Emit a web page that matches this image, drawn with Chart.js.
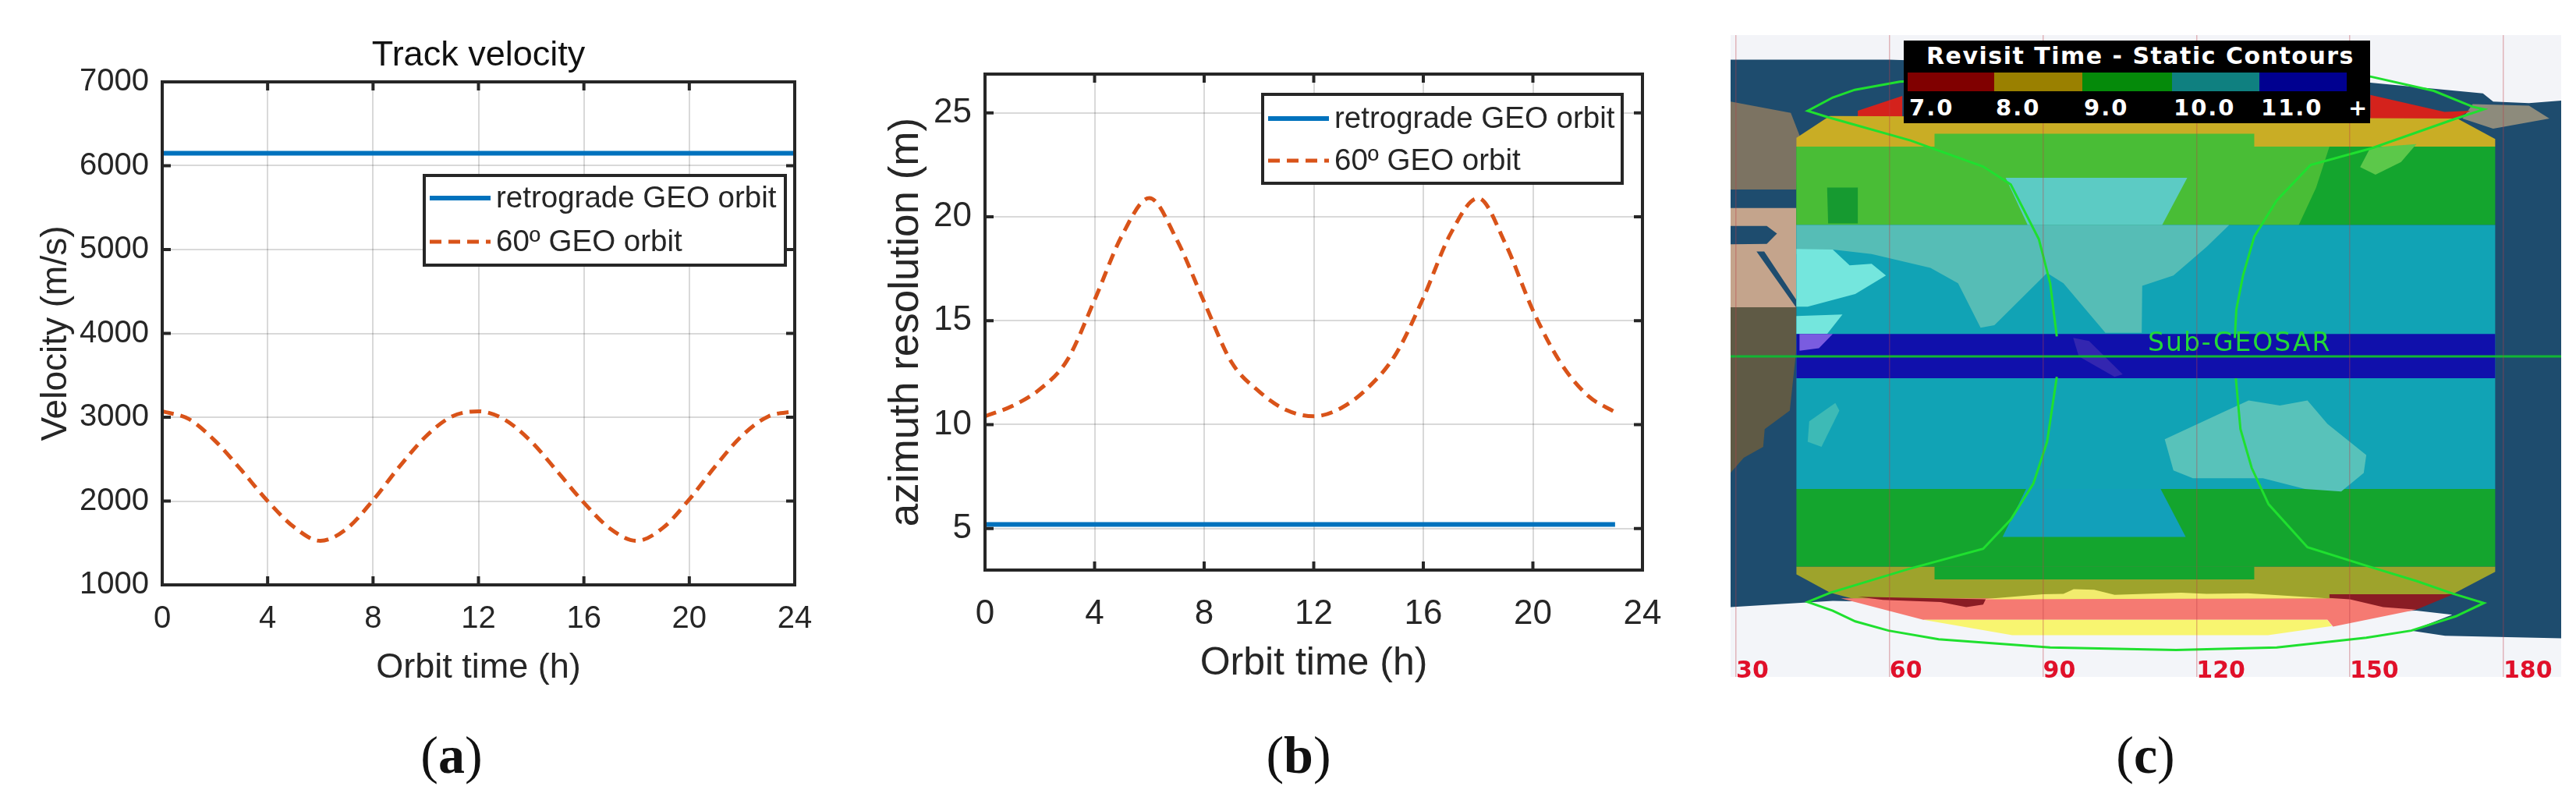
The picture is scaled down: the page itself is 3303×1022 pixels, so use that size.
<!DOCTYPE html>
<html>
<head>
<meta charset="utf-8">
<title>Sub-GEOSAR</title>
<script src="https://cdn.jsdelivr.net/npm/chart.js@4/dist/chart.umd.js"></script>
<style>
  html, body { margin: 0; padding: 0; background: #fff; overflow: hidden; }
  body { position: relative; width: 3303px; height: 1022px; }
  canvas { position: absolute; top: 0; }
  .caption { position: absolute; top: 929px; font: 68px "Liberation Serif", serif; color: #111; transform: translateX(-50%); }
  .caption b { font-weight: bold; }
  #revisit { position: absolute; left: 2441px; top: 52px; width: 598px; height: 106px; background: #000; color: #fff; font-family: "DejaVu Sans", sans-serif; font-weight: bold; }
  #revisit .head { position: absolute; left: 29px; top: 2px; font-size: 30px; letter-spacing: 1.5px; white-space: nowrap; }
  #revisit .sw { position: absolute; top: 41px; height: 24px; }
  #revisit .val { position: absolute; top: 69px; font-size: 29px; letter-spacing: 2px; }
</style>
</head>
<body>
<canvas id="chartA" width="1100" height="930" style="left:0"></canvas>
<canvas id="chartB" width="1100" height="930" style="left:1100px"></canvas>
<canvas id="chartC" width="1113" height="930" style="left:2190px"></canvas>

<div class="caption" style="left:579px">(<b>a</b>)</div>
<div class="caption" style="left:1665px">(<b>b</b>)</div>
<div class="caption" style="left:2751px">(<b>c</b>)</div>

<div id="revisit"><div class="head">Revisit Time - Static Contours</div></div>

<script>
// (a) track velocity
const hoursA = [0,1,2,3,4,5,6,7,8,9,10,11,12,13,14,15,16,17,18,19,20,21,22,23,24];
const retroVelocity = [6150,6150,6150,6150,6150,6150,6150,6150,6150,6150,6150,6150,6150,6150,6150,6150,6150,6150,6150,6150,6150,6150,6150,6150,6150];
const geo60Velocity = [3070,2980,2720,2370,2000,1690,1525,1670,2010,2410,2770,3010,3070,2970,2710,2350,1980,1670,1525,1680,2020,2420,2780,3010,3070];
const xTicksAB = [0,4,8,12,16,20,24];
const yTicksA = [1000,2000,3000,4000,5000,6000,7000];

// (b) azimuth resolution
const hoursB = [0,1,2,3,4,5,6,7,8,9,10,11,12,13,14,15,16,17,18,19,20,21,22,23];
const retroResolution = [5.2,5.2,5.2,5.2,5.2,5.2,5.2,5.2,5.2,5.2,5.2,5.2,5.2,5.2,5.2,5.2,5.2,5.2,5.2,5.2,5.2,5.2,5.2,5.2];
const geo60Resolution = [10.4,10.9,11.7,13.1,16.0,19.1,20.9,18.9,15.9,13.0,11.6,10.7,10.4,10.8,11.8,13.4,16.1,19.2,20.9,18.7,15.5,13.0,11.4,10.6];
const yTicksB = [5,10,15,20,25];

const seriesNames = ["retrograde GEO orbit", "60\u00ba GEO orbit"];

// (c) revisit map, all as [lon, lat]
const lonTicks = [30,60,90,120,150,180];
const revisitLabels = ["7.0","8.0","9.0","10.0","11.0","+"];
const ocean = [[28.9,62.8],[191.3,62.8],[191.3,-62.65],[28.9,-62.65]];
const polarNorth = [[28.9,62.8],[191.3,62.8],[191.3,50],[185,49.5],[178,49.8],[176,51.4],[154,53.5],[150,55],[60,58],[28.9,58]];
const polarSouth = [[28.9,-49],[48.9,-47.8],[60,-48],[110,-50],[150,-50],[163,-49.7],[170,-50.5],[162,-53.6],[168.6,-54.6],[191.3,-55.1],[191.3,-62.65],[28.9,-62.65]];
const europe = [[28.9,49.8],[40.7,47.6],[42.4,43.2],[41.8,32.6],[33,32.6],[28.9,32.6]];
const russiaEast = [[174,49.3],[185,49],[189,46.5],[178,44.5],[172,46.5]];
const africaNorth = [[28.9,29],[41.8,29],[41.8,9.6],[28.9,9.6]];
const africaSouth = [[28.9,9.6],[41.8,9.6],[41.8,1.5],[40.5,-10.6],[35.6,-14.2],[35.3,-17.7],[31.5,-19.8],[28.9,-22.8]];
const medSea = [[28.9,25.5],[36,25.5],[38,24],[36,22],[28.9,21.9]];
const redSea = [[34,20.5],[35.5,20.5],[41.8,11],[41.8,9.5]];
const tealBand = [[41.8,25.7],[178.4,25.7],[178.4,-25.9],[41.8,-25.9]];
const blueBand = [[41.8,4.4],[178.4,4.4],[178.4,-4.27],[41.8,-4.27]];
const greenNorth = [[41.8,41],[178.4,41],[178.4,25.7],[41.8,25.7]];
const greenSouth = [[41.8,-25.9],[178.4,-25.9],[178.4,-41.1],[41.8,-41.1]];
const oliveNorth = [[41.8,41],[178.4,41],[178.4,42.5],[171,46.5],[48.3,47],[41.8,42.7]];
const oliveSouth = [[41.8,-41.1],[178.4,-41.1],[178.4,-42.1],[170.2,-46.4],[150,-47.4],[53,-47.4],[48.4,-46.2],[41.8,-42.6]];
const greenNotchSouth = [[68.8,-41.1],[131.3,-41.1],[131.3,-43.6],[68.8,-43.6]];
const tealNotchNorth = [[82.7,34.9],[118.2,34.9],[113.3,25.7],[87,25.7]];
const tealNotchSouth = [[86.7,-25.9],[113,-25.9],[117.9,-35.3],[82.1,-35.3]];
const landGreen = [[41.8,41],[68.8,41],[68.8,43.5],[131.3,43.5],[131.3,41],[146,41],[143.4,33],[140,25.7],[41.8,25.7]];
const caspian = [[47.8,33],[53.8,33],[53.8,26],[48,26]];
const japan = [[154,40.8],[163,41.5],[160,38],[155,35.5],[152,37]];
const landTeal = [[41.8,25.7],[126.4,25.7],[122,21.4],[115.5,15.8],[109.4,13.8],[109.3,4.6],[102.2,4.6],[94,14.3],[90.8,16.3],[80.5,6.1],[77.8,5.6],[73.4,14.3],[68,17.3],[56.5,20],[48.9,20.9],[41.8,20]];
const arabia = [[41.8,21],[48.9,20.9],[52.2,17.8],[56.5,18.1],[59.3,15.8],[53.3,12.2],[44,9.7],[41.8,9.7]];
const somalia = [[41.8,7.9],[50.8,8.2],[47.8,4.4],[41.8,4.4]];
const kenyaCoast = [[42.4,4.4],[48.9,4.4],[46.2,1.6],[42.4,1.1]];
const sumatra = [[95.9,3.6],[99,3],[105.6,-3.5],[104,-4],[97,0]];
const australia = [[113.8,-16.2],[124.8,-11.1],[130.2,-8.6],[136.3,-9.6],[141.7,-8.6],[145.6,-13.2],[153.2,-19.3],[152.7,-22.8],[148.3,-26.4],[141.2,-25.9],[133,-23.8],[119.3,-23.8],[115.5,-22.3]];
const madagascar = [[49.4,-9.1],[50.2,-10.6],[46.7,-17.7],[44,-16.7],[44.3,-12.7]];
const redNorthLeft = [[50,46.3],[53.8,46.3],[53.8,48],[62.5,50.9],[62.5,46.7]];
const redNorthRight = [[154,51.1],[168.5,47.8],[173.5,48],[170.2,46.2],[154,46.2]];
const salmon = [[50.5,-47.3],[160,-47.3],[163,-49.5],[146.7,-52.8],[145.6,-51.5],[66.6,-51.5]];
const yellowSouth = [[66.6,-51.5],[145.6,-51.5],[146.5,-52.7],[134,-54.5],[84,-54.5]];
const yellowRidge = [[78,-47.5],[84,-47],[90,-46.5],[94,-46.4],[96,-45.5],[100,-45.6],[104,-46.6],[117,-46.2],[122,-46.4],[130,-46.3],[145.6,-47.3]];
const darkRedLeft = [[53.8,-47],[78.8,-47.5],[78.3,-48.5],[75,-49],[70,-48],[58.7,-47.6]];
const darkRedRight = [[146,-46.5],[170.2,-46.5],[163,-49.5],[156.5,-49],[150,-47.5],[146,-47.2]];
const footprintNorth = [[92.7,3.9],[91.4,14.3],[89.2,22.9],[83.7,33.6],[78.3,37.1],[64.1,42.2],[47.8,46.8],[44,48],[48.9,50.6],[53.2,52.1],[62,53.7],[108,56],[154,54.7],[166.4,51.9],[174,48.8],[176.2,48.3],[170.2,46.3],[154.3,40.7],[142.3,37.4],[135.7,30.5],[131.3,23.4],[129.1,15.8],[127.8,9.2],[127.5,3.6]];
const footprintSouth = [[127.7,-4.3],[128.6,-14.2],[130.8,-21.8],[134.1,-28.9],[141.7,-37.3],[153.8,-41.1],[163,-43.9],[170.2,-46.4],[176.2,-48.2],[170.7,-50.8],[162,-53.6],[153.2,-55],[135.7,-56.9],[116,-57.4],[91.4,-56.9],[69.6,-55.3],[59.8,-53.6],[53.3,-51.8],[48.9,-49.7],[44,-48],[48.4,-46.2],[63.6,-41.6],[78.3,-37.6],[83.7,-31.9],[88.1,-24.9],[90.8,-16.7],[92.7,-4]];
const equator = [[28.9,0],[191.3,0]];

const INK = "#262626";
const BLUE = "#0072bd";
const ORANGE = "#d95319";

function pairs(xs, ys) {
  return xs.map((x, i) => ({ x: x, y: ys[i] }));
}

// matlab style frame, ticks point inward on all four sides
const boxPlugin = {
  id: "matlabBox",
  afterDatasetsDraw(chart) {
    const { ctx, chartArea: a, scales } = chart;
    ctx.save();
    ctx.strokeStyle = INK;
    ctx.lineWidth = 4;
    ctx.strokeRect(a.left, a.top, a.right - a.left, a.bottom - a.top);
    ctx.beginPath();
    scales.x.ticks.forEach((t) => {
      const px = scales.x.getPixelForValue(t.value);
      ctx.moveTo(px, a.top);
      ctx.lineTo(px, a.top + 11);
      ctx.moveTo(px, a.bottom);
      ctx.lineTo(px, a.bottom - 11);
    });
    scales.y.ticks.forEach((t) => {
      const py = scales.y.getPixelForValue(t.value);
      ctx.moveTo(a.left, py);
      ctx.lineTo(a.left + 11, py);
      ctx.moveTo(a.right, py);
      ctx.lineTo(a.right - 11, py);
    });
    ctx.stroke();

    // legend
    const lg = chart.options.plugins.matlabBox;
    ctx.fillStyle = "#fff";
    ctx.fillRect(lg.x, lg.y, lg.w, lg.h);
    ctx.strokeRect(lg.x, lg.y, lg.w, lg.h);
    ctx.font = '38.5px "Liberation Sans"';
    ctx.textBaseline = "middle";
    chart.data.datasets.forEach((ds, i) => {
      ctx.beginPath();
      ctx.strokeStyle = ds.borderColor;
      ctx.lineWidth = ds.borderWidth;
      ctx.setLineDash(ds.borderDash || []);
      ctx.moveTo(lg.lineX, lg.rows[i]);
      ctx.lineTo(lg.lineX + lg.lineW, lg.rows[i]);
      ctx.stroke();
      ctx.setLineDash([]);
      ctx.fillStyle = INK;
      ctx.fillText(ds.label, lg.lineX + lg.lineW + 7, lg.rows[i] + 1);
    });
    ctx.restore();
  },
};

function lineChart(id, cfg) {
  return new Chart(document.getElementById(id), {
    type: "line",
    plugins: [boxPlugin],
    data: {
      datasets: [
        { label: seriesNames[0], data: cfg.retro, borderColor: BLUE, borderWidth: 6, pointRadius: 0 },
        { label: seriesNames[1], data: cfg.geo60, borderColor: ORANGE, borderWidth: 5, borderDash: [15, 9], pointRadius: 0, cubicInterpolationMode: "monotone" },
      ],
    },
    options: {
      responsive: false,
      animation: false,
      layout: { padding: cfg.padding },
      plugins: {
        legend: { display: false },
        tooltip: { enabled: false },
        title: cfg.title,
        matlabBox: cfg.legend,
      },
      scales: {
        x: {
          type: "linear",
          min: 0,
          max: 24,
          afterBuildTicks: (s) => { s.ticks = xTicksAB.map((v) => ({ value: v })); },
          afterFit: (s) => { s.height = cfg.xAxisH; },
          grid: { color: "rgba(0,0,0,0.15)", lineWidth: 2, drawTicks: false },
          border: { display: false },
          ticks: { color: INK, padding: cfg.xTickPad, maxRotation: 0, autoSkip: false, font: { family: "Liberation Sans", size: cfg.tickSize } },
          title: { display: true, text: "Orbit time (h)", color: INK, padding: 0, font: { family: "Liberation Sans", size: cfg.titleSize } },
        },
        y: {
          min: cfg.yMin,
          max: cfg.yMax,
          afterBuildTicks: (s) => { s.ticks = cfg.yTicks.map((v) => ({ value: v })); },
          afterFit: (s) => { s.width = cfg.yAxisW; },
          grid: { color: "rgba(0,0,0,0.15)", lineWidth: 2, drawTicks: false },
          border: { display: false },
          ticks: { color: INK, padding: 17, autoSkip: false, callback: (v) => String(v), font: { family: "Liberation Sans", size: cfg.tickSize } },
          title: { display: true, text: cfg.yTitle, color: INK, padding: 0, font: { family: "Liberation Sans", size: cfg.yTitleSize } },
        },
      },
    },
  });
}

lineChart("chartA", {
  retro: pairs(hoursA, retroVelocity),
  geo60: pairs(hoursA, geo60Velocity),
  padding: { left: 45, right: 81, top: 0, bottom: 46 },
  title: { display: true, fullSize: false, text: "Track velocity", color: "#111", font: { family: "Liberation Sans", size: 45, weight: "normal" }, padding: { top: 45, bottom: 6 } },
  legend: { x: 544, y: 225, w: 463, h: 115, lineX: 551, lineW: 78, rows: [254, 310] },
  xAxisH: 134,
  yAxisW: 163,
  xTickPad: 20,
  tickSize: 40,
  titleSize: 45,
  yTitleSize: 46,
  yMin: 1000,
  yMax: 7000,
  yTicks: yTicksA,
  yTitle: "Velocity (m/s)",
});

// right padding has to stay above half a tick label plus its padding
lineChart("chartB", {
  retro: pairs(hoursB, retroResolution),
  geo60: pairs(hoursB, geo60Resolution),
  padding: { left: 31, right: 94, top: 95, bottom: 49 },
  title: { display: false },
  legend: { x: 519, y: 121, w: 461, h: 114, lineX: 526, lineW: 78, rows: [152, 206] },
  xAxisH: 150,
  yAxisW: 132,
  xTickPad: 30,
  tickSize: 44,
  titleSize: 50,
  yTitleSize: 53,
  yMin: 3,
  yMax: 26.87,
  yTicks: yTicksB,
  yTitle: "azimuth resolution (m)",
});

// map drawn back to front, chart.js paints the last dataset first
function poly(points, color) {
  return {
    data: points.map((p) => ({ x: p[0], y: p[1] })),
    backgroundColor: color,
    borderWidth: 0,
    pointRadius: 0,
    fill: "shape",
    tension: 0,
  };
}
function outline(points, color, width) {
  return {
    data: points.map((p) => ({ x: p[0], y: p[1] })),
    borderColor: color,
    borderWidth: width,
    pointRadius: 0,
    fill: false,
    tension: 0,
  };
}

const mapLayers = [
  poly(ocean, "#1e4c6e"),
  poly(polarNorth, "#f3f4f8"),
  poly(polarSouth, "#f3f5f9"),
  poly(europe, "#7c7362"),
  poly(russiaEast, "#8d8b7c"),
  poly(africaNorth, "#c4a48c"),
  poly(africaSouth, "#5f5a45"),
  poly(medSea, "#1e4c6e"),
  poly(redSea, "#1e4c6e"),
  poly(redNorthLeft, "#d4221c"),
  poly(redNorthRight, "#d4221c"),
  poly(oliveNorth, "#c9ad25"),
  poly(oliveSouth, "#9ea32c"),
  poly(greenNorth, "#14a52e"),
  poly(greenSouth, "#14a52e"),
  poly(greenNotchSouth, "#14a52e"),
  poly(landGreen, "#49bd36"),
  poly(caspian, "#169a30"),
  poly(japan, "#5cc84a"),
  poly(tealBand, "#11a3b5"),
  poly(tealNotchNorth, "#5ccbc4"),
  poly(tealNotchSouth, "#12a0ba"),
  poly(landTeal, "#56bdb6"),
  poly(arabia, "#74e6dd"),
  poly(somalia, "#74e6dd"),
  poly(australia, "#58c2ba"),
  poly(madagascar, "#3dbab6"),
  poly(blueBand, "#1010ab"),
  poly(kenyaCoast, "#7a5ce0"),
  poly(sumatra, "#3326b0"),
  poly(salmon, "#f57a72"),
  poly(yellowSouth, "#f8f570"),
  poly(yellowRidge, "#f2ec6e"),
  poly(darkRedLeft, "#8a1c24"),
  poly(darkRedRight, "#8a1c24"),
  outline(equator, "#12b634", 3),
  outline(footprintNorth, "#1fe02f", 3),
  outline(footprintSouth, "#1fe02f", 3),
];

const mapLabelPlugin = {
  id: "subGeosar",
  afterDatasetsDraw(chart) {
    const { ctx, scales } = chart;
    ctx.save();
    ctx.font = '33px "DejaVu Sans"';
    ctx.letterSpacing = "2px";
    ctx.fillStyle = "#22d838";
    ctx.textBaseline = "alphabetic";
    ctx.fillText("Sub-GEOSAR", scales.x.getPixelForValue(110.5), scales.y.getPixelForValue(1.1));
    ctx.restore();
  },
};

new Chart(document.getElementById("chartC"), {
  type: "line",
  plugins: [mapLabelPlugin],
  data: { datasets: mapLayers.slice().reverse() },
  options: {
    responsive: false,
    animation: false,
    layout: { padding: { left: 29, right: 19, top: 45, bottom: 62 } },
    plugins: { legend: { display: false }, tooltip: { enabled: false } },
    scales: {
      x: {
        type: "linear",
        min: 28.93,
        max: 191.3,
        afterBuildTicks: (s) => { s.ticks = lonTicks.map((v) => ({ value: v })); },
        afterFit: (s) => { s.height = 0; },
        grid: { color: "rgba(190,60,70,0.35)", lineWidth: 1.5, z: 1, drawTicks: false },
        border: { display: false },
        // mirror keeps the labels from being clipped to the zero height axis box,
        // it also flips the padding so this one lifts them into the map
        ticks: { color: "#e0102a", padding: -11, mirror: true, align: "start", maxRotation: 0, autoSkip: false, z: 2, font: { family: "DejaVu Sans", size: 30, weight: "bold" } },
      },
      y: { display: false, min: -62.65, max: 62.8 },
    },
  },
});

// revisit legend, swatch edges follow the picture
const swatchColors = ["#800000", "#9a8000", "#058a0a", "#0f8080", "#000090"];
const swatchEdges = [5, 116, 229, 344, 456, 568];
const legendBox = document.getElementById("revisit");
swatchColors.forEach((c, i) => {
  const d = document.createElement("div");
  d.className = "sw";
  d.style.left = swatchEdges[i] + "px";
  d.style.width = swatchEdges[i + 1] - swatchEdges[i] + "px";
  d.style.background = c;
  legendBox.appendChild(d);
});
revisitLabels.forEach((t, i) => {
  const d = document.createElement("div");
  d.className = "val";
  d.style.left = swatchEdges[i] + 2 + "px";
  d.textContent = t;
  legendBox.appendChild(d);
});
</script>
</body>
</html>
